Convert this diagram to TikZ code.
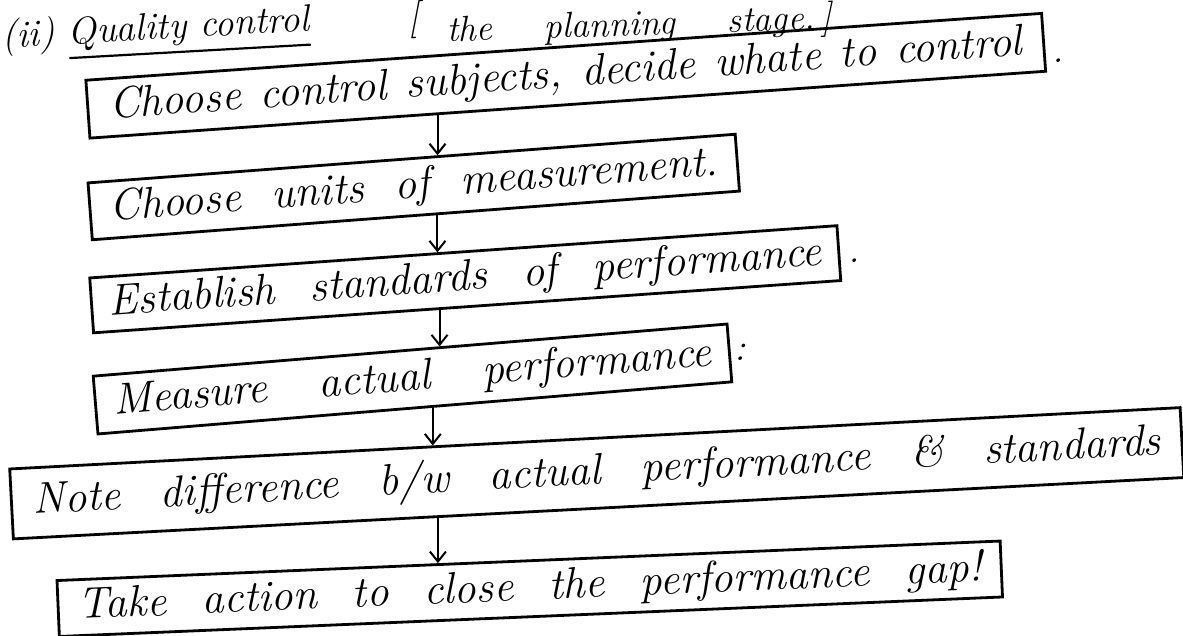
\documentclass[tikz,border=0pt]{standalone}
\usetikzlibrary{arrows.meta,calc}
\newcommand\thickul[1]{\leavevmode\vtop{\hbox{#1}\kern5pt\hrule height 2.2pt}}
\begin{document}
\begin{tikzpicture}[x=1pt,y=-1pt,
  box/.style={draw, line width=2.8pt, inner sep=0pt, anchor=center,
    font=\fontsize{44}{48}\selectfont\itshape},
  arr/.style={line width=2pt, -{Straight Barb[length=10pt,width=16pt,line width=2pt]}},
  note/.style={inner sep=0pt, font=\fontsize{38}{42}\selectfont\itshape}]
\useasboundingbox (0,0) rectangle (1183,635);

% header
\node[note, anchor=base west, rotate=3.2] (h1) at (2,48) {(ii) \thickul{Quality control}};
\node[note, anchor=base west, rotate=3.2] (h2) at (408,30) {[};
\node[note, anchor=base west, rotate=2.0, font=\fontsize{36}{40}\selectfont\itshape] (h3) at (447,42)
  {\makebox[385pt][s]{the planning stage.\,]}};

% boxes
\node[box, rotate=4.0, minimum width=958pt, minimum height=58pt] (b1) at (565.75,75.75)
  {\makebox[915pt][s]{Choose control subjects, decide whate to control}};
\node[box, rotate=4.3, minimum width=649pt, minimum height=57pt] (b2) at (413.75,187)
  {\makebox[610pt][s]{Choose units of measurement.}};
\node[box, rotate=4.0, minimum width=749pt, minimum height=55pt] (b3) at (465.25,279.25)
  {\makebox[715pt][s]{Establish standards of performance}};
\node[box, rotate=4.7, minimum width=636pt, minimum height=58pt] (b4) at (412.5,379)
  {\makebox[600pt][s]{Measure actual performance}};
\node[box, rotate=3.0, minimum width=1172pt, minimum height=70pt] (b5) at (596.75,473.25)
  {\makebox[1130pt][s]{Note difference b/w actual performance \& standards}};
\node[box, rotate=2.4, minimum width=944pt, minimum height=56pt] (b6) at (529.75,588.75)
  {\makebox[905pt][s]{Take action to close the performance gap!}};

% trailing marks
\node[note, anchor=base west] (p1) at (1052,62) {.};
\node[note, anchor=base west] (p3) at (848,262) {.};
\node[note, anchor=base west] (p4) at (734,360) {:};

% arrows
\coordinate (s1) at ($(b1.south west)!0.364!(b1.south east)$);
\coordinate (e1) at ($(b2.north west)!0.539!(b2.north east)$);
\coordinate (s2) at ($(b2.south west)!0.533!(b2.south east)$);
\coordinate (e2) at ($(b3.north west)!0.462!(b3.north east)$);
\coordinate (s3) at ($(b3.south west)!0.463!(b3.south east)$);
\coordinate (e3) at ($(b4.north west)!0.543!(b4.north east)$);
\coordinate (s4) at ($(b4.south west)!0.528!(b4.south east)$);
\coordinate (e4) at ($(b5.north west)!0.360!(b5.north east)$);
\coordinate (s5) at ($(b5.south west)!0.363!(b5.south east)$);
\coordinate (e5) at ($(b6.north west)!0.404!(b6.north east)$);
\draw[arr] (s1) -- (s1 |- e1);
\draw[arr] (s2) -- (s2 |- e2);
\draw[arr] (s3) -- (s3 |- e3);
\draw[arr] (s4) -- (s4 |- e4);
\draw[arr] (s5) -- (s5 |- e5);
\end{tikzpicture}
\end{document}
